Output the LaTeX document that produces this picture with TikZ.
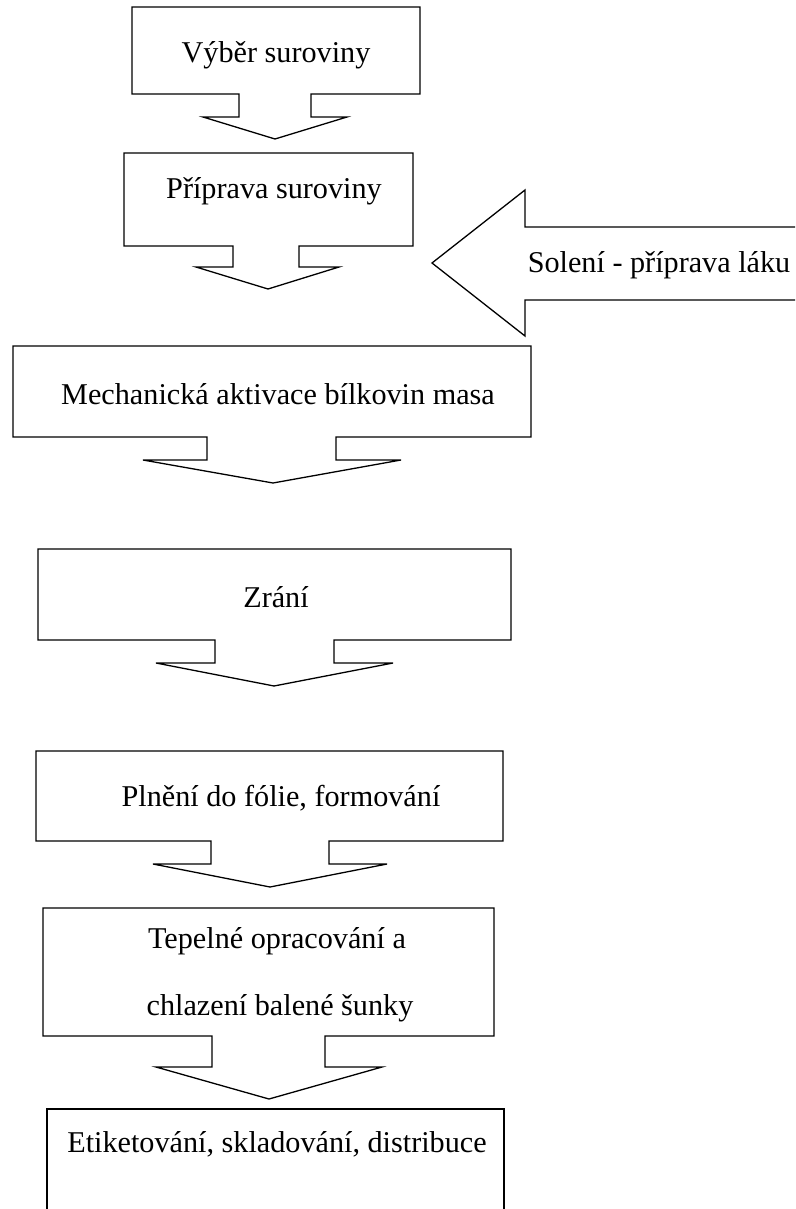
\documentclass[tikz,border=0pt]{standalone}
\usepackage{fontspec}
\setmainfont{Liberation Serif}

\tikzset{
  krok/.style={draw=black,line width=1.3pt,line join=miter},
  popis/.style={anchor=base,inner sep=0pt,font=\fontsize{30.2}{36}\selectfont}
}

\begin{document}
\begin{tikzpicture}[x=1pt,y=-1pt]
\useasboundingbox (0,0) rectangle (795,1209);

% box 1
\draw[krok] (132,7) -- (420,7) -- (420,94) -- (311,94) -- (311,117) -- (347,117)
  -- (275,139) -- (203,117) -- (239,117) -- (239,94) -- (132,94) -- cycle;
\node[popis](vyber) at (276,63){Výběr suroviny};

% box 2
\draw[krok] (124,153) -- (413,153) -- (413,246) -- (299,246) -- (299,267) -- (339,267)
  -- (268,289) -- (196,267) -- (233,267) -- (233,246) -- (124,246) -- cycle;
\node[popis](priprava) at (274,199){Příprava suroviny};

% sipka zprava
\draw[krok] (795,227) -- (525,227) -- (525,190) -- (432,263) -- (525,336) -- (525,300) -- (795,300);
\node[popis](soleni) at (659,272){Solení - příprava láku};

% box 3
\draw[krok] (13,346) -- (531,346) -- (531,437) -- (336,437) -- (336,460) -- (401,460)
  -- (273,483) -- (143,460) -- (207,460) -- (207,437) -- (13,437) -- cycle;
\node[popis](mech) at (278,404){Mechanická aktivace bílkovin masa};

% box 4
\draw[krok] (38,549) -- (511,549) -- (511,640) -- (334,640) -- (334,663) -- (393,663)
  -- (274,686) -- (156,663) -- (215,663) -- (215,640) -- (38,640) -- cycle;
\node[popis](zrani) at (276,607){Zrání};

% box 5
\draw[krok] (36,751) -- (503,751) -- (503,841) -- (329,841) -- (329,864) -- (387,864)
  -- (270,887) -- (153,864) -- (211,864) -- (211,841) -- (36,841) -- cycle;
\node[popis](plneni) at (281,806){Plnění do fólie, formování};

% box 6
\draw[krok] (43,908) -- (494,908) -- (494,1036) -- (325,1036) -- (325,1067) -- (382,1067)
  -- (269,1099) -- (156,1067) -- (212,1067) -- (212,1036) -- (43,1036) -- cycle;
\node[popis](tepel) at (277,948){Tepelné opracování a};
\node[popis](chlaz) at (280,1015){chlazení balené šunky};

% box 7, dole otevreny
\draw[krok] (47,1209) -- (47,1109) -- (504,1109) -- (504,1209);
\node[popis](etik) at (277,1152){Etiketování, skladování, distribuce};

\end{tikzpicture}
\end{document}
